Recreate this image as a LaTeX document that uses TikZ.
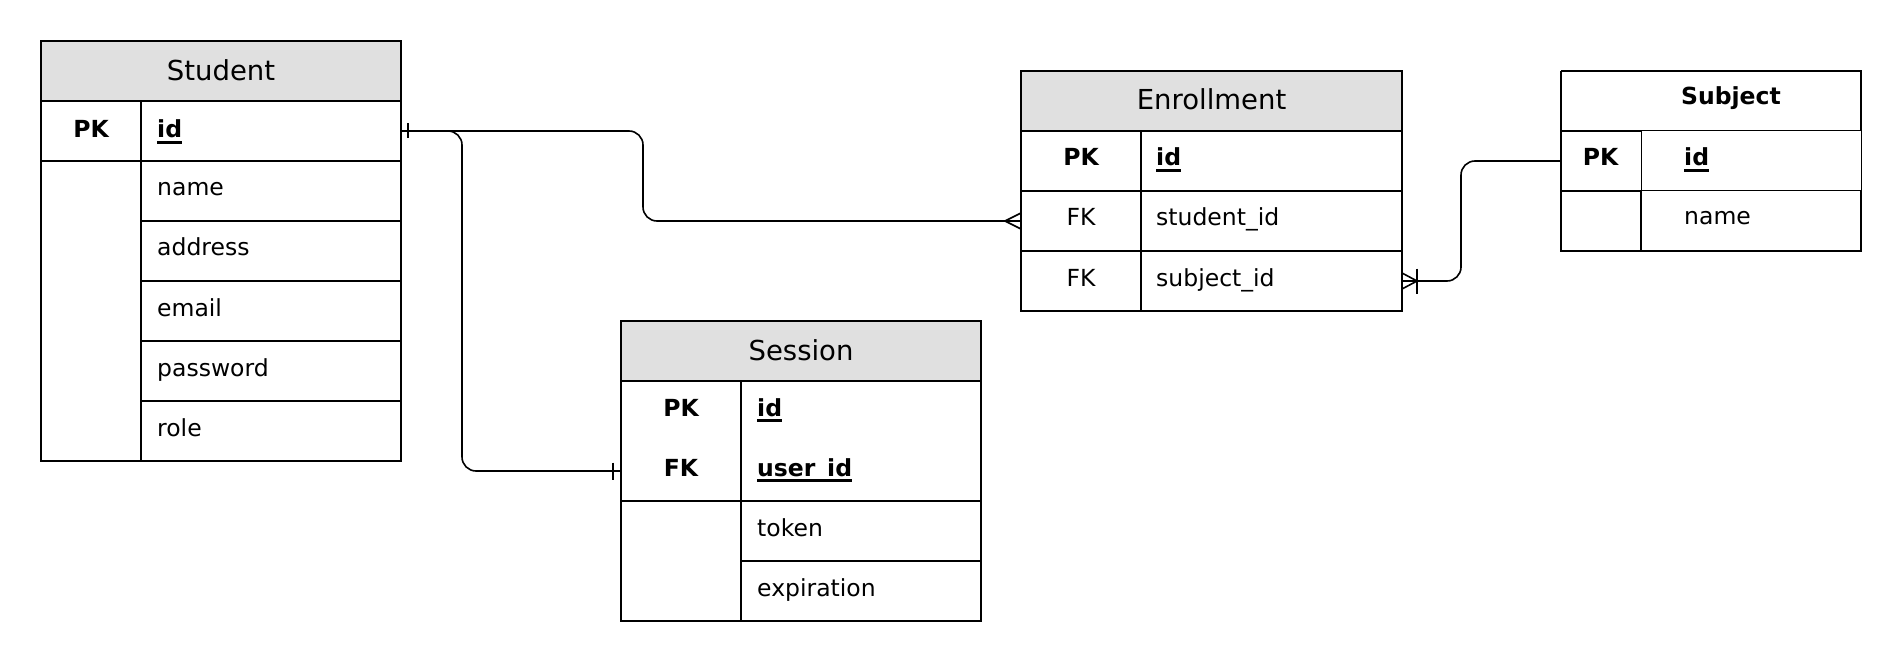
\documentclass[tikz,border=0pt]{standalone}
\usepackage{fontspec}
\setmainfont{DejaVu Sans}
\definecolor{hdrgray}{HTML}{E0E0E0}
\newcommand\fldfont{\fontsize{23.5}{28}\selectfont}
\newcommand\hdfont{\fontsize{27.5}{33}\selectfont}
\newcommand\keyul[1]{\setbox0\hbox{#1}\rlap{\rule[-5.6pt]{\wd0}{2.2pt}}\box0}
\begin{document}
\begin{tikzpicture}[x=1pt,y=-1pt,
  box/.style={draw,line width=2pt,inner sep=0pt,outer sep=0pt,anchor=north west},
  hdr/.style={box,fill=hdrgray},
  thincell/.style={draw,line width=1pt,inner sep=0pt,outer sep=0pt,anchor=north west},
  row/.style={inner sep=0pt,outer sep=0pt,anchor=north west},
  sep/.style={line width=2pt},
  fld/.style={inner sep=0pt,anchor=base west,font=\fldfont},
  key/.style={inner sep=0pt,anchor=base,font=\fldfont\bfseries},
  fk/.style={inner sep=0pt,anchor=base,font=\fldfont},
  title/.style={inner sep=0pt,anchor=base,font=\hdfont},
  conn/.style={line width=1.6pt,rounded corners=14pt},
  endmark/.style={line width=1.6pt},
]
\useasboundingbox (0,0) rectangle (1902,668);

% ---------------- Student ----------------
\node[box,minimum width=360pt,minimum height=420pt] (student) at (41,41) {};
\node[hdr,minimum width=360pt,minimum height=60pt] (studenthdr) at (41,41) {};
\node[box,minimum width=360pt,minimum height=60pt] (stuid) at (41,101) {};
\draw[sep] (141,101) -- (141,461);
\foreach \yy in {221,281,341,401} \draw[sep] (141,\yy) -- (401,\yy);
\node[title] (stut) at (221,80.5) {Student};
\node[key] (stupk) at (91,138) {PK};
\node[fld] (stuidt) at (157,138) {\keyul{\textbf{id}}};
\node[fld] (stuname) at (157,196) {name};
\node[fld] (stuaddr) at (157,256) {address};
\node[fld] (stumail) at (157,316) {email};
\node[fld] (stupass) at (157,376) {password};
\node[fld] (sturole) at (157,436) {role};

% ---------------- Session ----------------
\node[box,minimum width=360pt,minimum height=300pt] (session) at (621,321) {};
\node[hdr,minimum width=360pt,minimum height=60pt] (sessionhdr) at (621,321) {};
\node[row,minimum width=360pt,minimum height=60pt] (sessfk) at (621,441) {};
\draw[sep] (741,381) -- (741,621);
\draw[sep] (621,501) -- (981,501);
\draw[sep] (741,561) -- (981,561);
\node[title] (sesst) at (801,360) {Session};
\node[key] (sesspk) at (681,416) {PK};
\node[fld] (sessidt) at (757,416) {\keyul{\textbf{id}}};
\node[key] (sessfkt) at (681,476) {FK};
\node[fld] (sessuser) at (757,476) {\keyul{\textbf{user\_id}}};
\node[fld] (sesstok) at (757,536) {token};
\node[fld] (sessexp) at (757,596) {expiration};

% ---------------- Enrollment ----------------
\node[box,minimum width=381pt,minimum height=240pt] (enrollment) at (1021,71) {};
\node[hdr,minimum width=381pt,minimum height=60pt] (enrollmenthdr) at (1021,71) {};
\node[row,minimum width=381pt,minimum height=60pt] (enrstu) at (1021,191) {};
\node[row,minimum width=381pt,minimum height=60pt] (enrsub) at (1021,251) {};
\draw[sep] (1141,131) -- (1141,311);
\draw[sep] (1021,191) -- (1402,191);
\draw[sep] (1021,251) -- (1402,251);
\node[title] (enrt) at (1211.5,109.3) {Enrollment};
\node[key] (enrpk) at (1081,166) {PK};
\node[fld] (enridt) at (1156,166) {\keyul{\textbf{id}}};
\node[fk] (enrfk1) at (1081,226) {FK};
\node[fld] (enrstut) at (1156,226) {student\_id};
\node[fk] (enrfk2) at (1081,286) {FK};
\node[fld] (enrsubt) at (1156,286) {subject\_id};

% ---------------- Subject ----------------
\fill[white] (1561,131) rectangle (1861,191);
\draw[sep] (1561,71) -- (1861,71) -- (1861,131);
\draw[sep] (1861,191) -- (1861,251) -- (1561,251) -- (1561,71);
\node[row,minimum width=300pt,minimum height=60pt] (subid) at (1561,131) {};
\node[row,minimum width=300pt,minimum height=180pt] (subject) at (1561,71) {};
\draw[sep] (1561,131) -- (1641,131);
\draw[sep] (1561,191) -- (1641,191);
\draw[sep] (1641,191) -- (1641,251);
\node[thincell,minimum width=220pt,minimum height=60pt] (subidcell) at (1641,131) {};
\node[key] (subt) at (1731,105) {Subject};
\node[key] (subpk) at (1600.5,166) {PK};
\node[fld] (subidt) at (1684,166) {\keyul{\textbf{id}}};
\node[fld] (subname) at (1684,225) {name};

% ---------------- Connectors ----------------
\draw[conn] (stuid.east) -- ++(242,0) |- (enrstu.west);
\draw[conn] (stuid.east) -- ++(61,0) |- (sessfk.west);
\draw[conn] (subid.west) -- ++(-100,0) |- (enrsub.east);

% one-marks
\draw[endmark] ([xshift=7pt,yshift=7.5pt]stuid.east) -- ([xshift=7pt,yshift=-7.5pt]stuid.east);
\draw[endmark] ([xshift=-8pt,yshift=8.5pt]sessfk.west) -- ([xshift=-8pt,yshift=-8.5pt]sessfk.west);
% crow's foot (many) at Enrollment.student_id
\draw[endmark] ([yshift=8pt]enrstu.west) -- ([xshift=-16pt]enrstu.west) -- ([yshift=-8pt]enrstu.west);
% crow's foot with bar (one or many) at Enrollment.subject_id
\draw[endmark] ([yshift=8pt]enrsub.east) -- ([xshift=15pt]enrsub.east) -- ([yshift=-8pt]enrsub.east);
\draw[endmark] ([xshift=15pt,yshift=12.5pt]enrsub.east) -- ([xshift=15pt,yshift=-12.5pt]enrsub.east);
\end{tikzpicture}
\end{document}
